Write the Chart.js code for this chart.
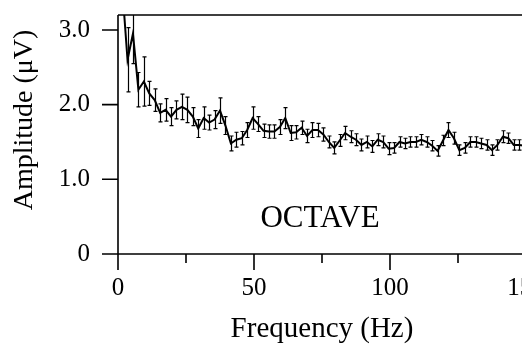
<!DOCTYPE html>
<html lang="en">
<head>
    <meta charset="UTF-8">
    <title>Octave amplitude spectrum</title>
    <script src="https://cdn.jsdelivr.net/npm/chart.js"></script>
    <style>
        html, body { margin: 0; padding: 0; background: #fff; overflow: hidden; }
        #wrap { width: 560px; height: 349px; }
    </style>
</head>
<body>
    <div id="wrap">
        <canvas id="ampChart" width="560" height="349"></canvas>
    </div>

    <script>
        // frequency of each point (Hz)
        const freqs = [1.5, 3.5, 5.5, 7.5, 9.5, 11.5, 13.5, 15.5, 17.5, 19.5,
            21.5, 23.5, 25.5, 27.5, 29.5, 31.5, 33.5, 35.5, 37.5, 39.5,
            41.5, 43.5, 45.5, 47.5, 49.5, 51.5, 53.5, 55.5, 57.5, 59.5,
            61.5, 63.5, 65.5, 67.5, 69.5, 71.5, 73.5, 75.5, 77.5, 79.5,
            81.5, 83.5, 85.5, 87.5, 89.5, 91.5, 93.5, 95.5, 97.5, 99.5,
            101.5, 103.5, 105.5, 107.5, 109.5, 111.5, 113.5, 115.5, 117.5, 119.5,
            121.5, 123.5, 125.5, 127.5, 129.5, 131.5, 133.5, 135.5, 137.5, 139.5,
            141.5, 143.5, 145.5, 147.5, 149.5];

        // mean amplitude (uV)
        const amps = [3.6, 2.6, 2.95, 2.2, 2.31, 2.15, 2.06, 1.89, 1.93, 1.84,
            1.93, 1.97, 1.93, 1.84, 1.68, 1.82, 1.76, 1.80, 1.92, 1.72,
            1.48, 1.53, 1.55, 1.66, 1.82, 1.74, 1.65, 1.64, 1.64, 1.70,
            1.82, 1.62, 1.63, 1.69, 1.58, 1.66, 1.66, 1.60, 1.50, 1.42,
            1.52, 1.62, 1.57, 1.53, 1.46, 1.50, 1.44, 1.53, 1.50, 1.41,
            1.42, 1.50, 1.48, 1.50, 1.50, 1.53, 1.50, 1.45, 1.38, 1.52,
            1.66, 1.55, 1.39, 1.42, 1.50, 1.50, 1.48, 1.46, 1.39, 1.46,
            1.57, 1.55, 1.46, 1.46, 1.45];

        // error bar half-length (uV)
        const errs = [0.3, 0.43, 0.4, 0.23, 0.33, 0.16, 0.15, 0.12, 0.15, 0.12,
            0.12, 0.17, 0.17, 0.12, 0.12, 0.15, 0.1, 0.12, 0.17, 0.12,
            0.1, 0.1, 0.09, 0.1, 0.15, 0.1, 0.09, 0.09, 0.09, 0.1,
            0.14, 0.1, 0.09, 0.09, 0.09, 0.1, 0.09, 0.09, 0.08, 0.08,
            0.08, 0.09, 0.08, 0.08, 0.08, 0.08, 0.08, 0.08, 0.08, 0.08,
            0.07, 0.07, 0.07, 0.07, 0.07, 0.07, 0.07, 0.07, 0.07, 0.07,
            0.1, 0.08, 0.07, 0.07, 0.07, 0.07, 0.07, 0.07, 0.07, 0.07,
            0.08, 0.07, 0.07, 0.07, 0.07];

        const xMajor = [0, 50, 100, 150];
        const xMinor = [25, 75, 125];
        const yTicks = [0, 1, 2, 3];

        const serif = 'Liberation Serif';

        // axis lines, tick marks, error bars and the free texts
        const decor = {
            id: 'decor',
            afterDatasetsDraw(chart) {
                const { ctx, chartArea: a, scales: { x, y } } = chart;
                ctx.save();
                ctx.beginPath();
                ctx.rect(a.left, a.top, a.right - a.left, a.bottom - a.top);
                ctx.clip();
                ctx.strokeStyle = '#000';
                ctx.lineWidth = 1.2;
                freqs.forEach((f, i) => {
                    const px = Math.round(x.getPixelForValue(f)) + 0.5;
                    const y1 = y.getPixelForValue(amps[i] - errs[i]);
                    const y2 = y.getPixelForValue(amps[i] + errs[i]);
                    ctx.beginPath();
                    ctx.moveTo(px, y1); ctx.lineTo(px, y2);
                    ctx.moveTo(px - 2, y1); ctx.lineTo(px + 2, y1);
                    ctx.moveTo(px - 2, y2); ctx.lineTo(px + 2, y2);
                    ctx.stroke();
                });
                ctx.restore();
            },
            afterDraw(chart) {
                const { ctx, chartArea: a, scales: { x, y } } = chart;
                ctx.save();
                ctx.strokeStyle = '#000';
                ctx.lineWidth = 1.6;
                ctx.beginPath();
                // frame: left, bottom, top
                ctx.moveTo(a.left, a.top); ctx.lineTo(a.left, a.bottom);
                ctx.moveTo(a.left, a.bottom); ctx.lineTo(a.right, a.bottom);
                ctx.moveTo(a.left, a.top); ctx.lineTo(a.right, a.top);
                xMajor.forEach(v => {
                    const px = x.getPixelForValue(v);
                    ctx.moveTo(px, a.bottom); ctx.lineTo(px, a.bottom + 16);
                });
                xMinor.forEach(v => {
                    const px = x.getPixelForValue(v);
                    ctx.moveTo(px, a.bottom); ctx.lineTo(px, a.bottom + 9);
                });
                yTicks.forEach(v => {
                    const py = y.getPixelForValue(v);
                    ctx.moveTo(a.left - 16, py); ctx.lineTo(a.left, py);
                });
                ctx.stroke();

                ctx.fillStyle = '#000';
                ctx.font = '31px "' + serif + '"';
                ctx.textAlign = 'center';
                ctx.textBaseline = 'alphabetic';
                ctx.fillText('OCTAVE', 320, 227);

                ctx.font = '28px "' + serif + '"';
                ctx.textBaseline = 'middle';
                ctx.translate(25, 120);
                ctx.rotate(-Math.PI / 2);
                ctx.fillText('Amplitude (\u03bcV)', 0, 0);
                ctx.restore();
            }
        };

        // hidden tick marks only push the labels away from the axes
        const spacer = len => ({
            display: true,
            drawOnChartArea: false,
            drawTicks: true,
            tickLength: len,
            color: 'rgba(0,0,0,0)'
        });

        const ctx = document.getElementById('ampChart').getContext('2d');
        new Chart(ctx, {
            type: 'line',
            data: {
                datasets: [{
                    data: freqs.map((f, i) => ({ x: f, y: amps[i] })),
                    borderColor: '#000',
                    borderWidth: 2,
                    pointRadius: 0,
                    tension: 0,
                    fill: false
                }]
            },
            options: {
                responsive: false,
                animation: false,
                devicePixelRatio: 1,
                layout: { padding: { top: 15, right: 34, left: 0, bottom: 0 } },
                plugins: { legend: { display: false }, tooltip: { enabled: false } },
                scales: {
                    x: {
                        type: 'linear',
                        min: 0,
                        max: 150,
                        grid: spacer(19),
                        border: { display: false },
                        afterBuildTicks: s => { s.ticks = xMajor.map(v => ({ value: v })); },
                        afterFit: s => { s.height = 95; },
                        ticks: {
                            padding: 0,
                            color: '#000',
                            font: { family: serif, size: 25 },
                            maxRotation: 0,
                            callback: v => String(v)
                        },
                        title: {
                            display: true,
                            text: 'Frequency (Hz)',
                            color: '#000',
                            font: { family: serif, size: 29 },
                            padding: { top: 0, bottom: 2 }
                        }
                    },
                    y: {
                        min: 0,
                        max: 3.2,
                        grid: spacer(28),
                        border: { display: false },
                        afterBuildTicks: s => { s.ticks = yTicks.map(v => ({ value: v })); },
                        afterFit: s => { s.width = 118; },
                        ticks: {
                            padding: 0,
                            color: '#000',
                            font: { family: serif, size: 25 },
                            callback: v => v === 0 ? '0' : v.toFixed(1)
                        }
                    }
                }
            },
            plugins: [decor]
        });
    </script>
</body>
</html>
